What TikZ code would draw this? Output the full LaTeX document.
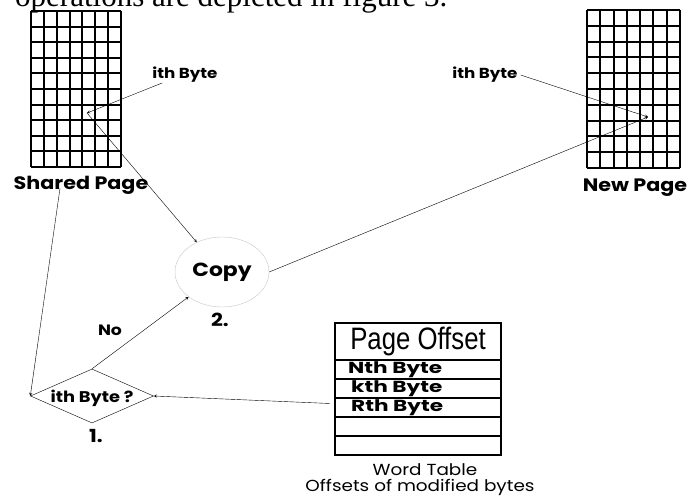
\documentclass[tikz,border=0pt]{standalone}
\usepackage{fontspec}
\setmainfont[FakeStretch=1.15]{Poppins}
\newfontfamily\widefont[FakeStretch=1.35]{Poppins}
\newfontfamily\narrowfont[FakeStretch=0.83]{Liberation Sans}
\newfontfamily\textserif{Liberation Serif}
\usepackage{tikz}
\usetikzlibrary{shapes.geometric}

\begin{document}
\begin{tikzpicture}[x=1pt, y=1pt,
  lbl/.style={font=\bfseries\fontsize{18}{20}\selectfont, inner sep=0pt},
  small/.style={font=\bfseries\fontsize{14.5}{16}\selectfont, inner sep=0pt},
  rowtext/.style={anchor=west, inner sep=0pt, font=\widefont\bfseries\fontsize{16}{18}\selectfont},
  row/.style={draw, line width=1.3pt, minimum width=166pt, minimum height=19pt, inner sep=0pt, outer sep=0pt},
  arr/.style={-stealth, thin}]
\useasboundingbox (0,0) rectangle (699,496);

% text of the page above, cut by the edge
\node[anchor=base west, inner sep=0pt, font=\textserif\fontsize{31}{33}\selectfont] (caption) at (15,489) {operations are depicted in figure 3.};

% shared page
\begin{scope}[shift={(31,329)}, x=12.857pt, y=15.6pt]
\draw[line width=2pt, step=1] (0,0) grid (7,10);
\end{scope}
\node[lbl] (shared) at (81,311) {Shared Page};
\coordinate (sbyte) at (87,383);

% new page
\begin{scope}[shift={(587,328)}, x=13.286pt, y=15.8pt]
\draw[line width=2pt, step=1] (0,0) grid (7,10);
\end{scope}
\node[lbl] (newpage) at (635,308) {New Page};
\coordinate (nbyte) at (648,379);

\node[small] (ithA) at (185,421) {ith Byte};
\node[small] (ithB) at (485,421) {ith Byte};

% copy
\node[ellipse, draw=gray!45, minimum width=94pt, minimum height=70pt, font=\bfseries\fontsize{19}{21}\selectfont] (copy) at (222,224) {Copy};
\node[lbl] (two) at (220,176) {2.};

% decision
\node[diamond, draw, thin, aspect=2.3, minimum width=123pt, minimum height=54pt, inner sep=0pt] (dia) at (92,100) {};
\node[font=\bfseries\fontsize{15.5}{17}\selectfont, inner sep=0pt] (ask) at (92,98) {ith Byte ?};
\node[lbl] (one) at (96,60) {1.};
\node[font=\bfseries\fontsize{15}{17}\selectfont, inner sep=0pt] (no) at (110,166) {No};

% word table
\node[draw, line width=1.6pt, minimum width=166pt, minimum height=37pt, inner sep=0pt, font=\narrowfont\fontsize{31}{32}\selectfont] (hdr) at (418,154.5) {Page Offset};
\node[row] (r1) at (418,126.5) {};
\node[row] (r2) at (418,107.5) {};
\node[row] (r3) at (418,88.5) {};
\node[row] (r4) at (418,69.5) {};
\node[row] (r5) at (418,50.5) {};
\node[rowtext] (nth) at (348,126.5) {Nth Byte};
\node[rowtext] (kth) at (351,107.5) {kth Byte};
\node[rowtext] (rth) at (351,88.5) {Rth Byte};
\node[anchor=base, font=\fontsize{16}{18}\selectfont, inner sep=0pt] (wt) at (425,21) {Word Table};
\node[anchor=base, font=\fontsize{16}{18}\selectfont, inner sep=0pt] (ofs) at (420,5) {Offsets of modified bytes};

% connectors
\draw[arr] ([xshift=10pt]ithA.south west) -- (sbyte);
\draw[arr] (sbyte) -- (copy);
\draw[arr] ([xshift=3pt]ithB.east) -- (nbyte);
\draw[arr] (copy.east) -- (nbyte);
\draw[arr] ([xshift=-21pt,yshift=6pt]shared.south) -- (dia.west);
\draw[arr] (dia.north) -- (copy);
\draw[arr] ([xshift=-5pt,yshift=4pt]r3.west) -- (dia.east);
\end{tikzpicture}
\end{document}
